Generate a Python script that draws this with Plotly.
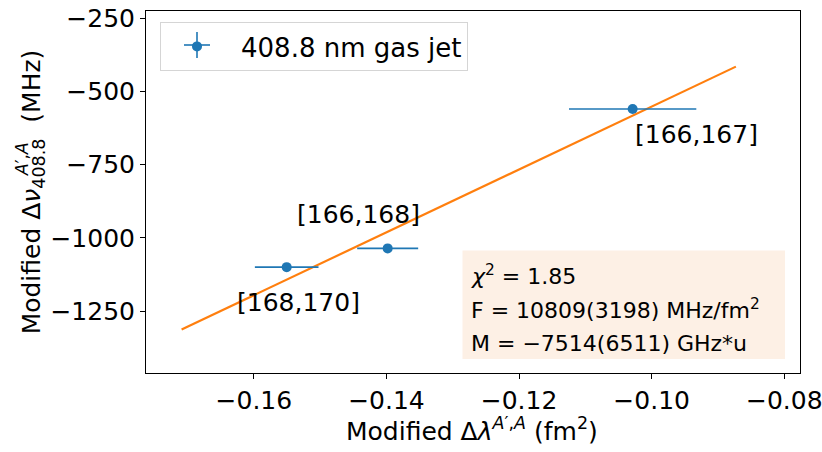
import plotly.graph_objects as go

# ---- data ----
pairs = ["[168,170]", "[166,168]", "[166,167]"]
x_vals = [-0.15505, -0.13982, -0.10287]
y_vals = [-1100, -1036, -560]
x_err = [0.0048, 0.0046, 0.0096]
y_err = [10, 10, 10]
fit_x = [-0.1709, -0.0873]
fit_y = [-1313, -415]
x_ticks = [-0.16, -0.14, -0.12, -0.10, -0.08]
x_ticklabels = ["\u22120.16", "\u22120.14", "\u22120.12", "\u22120.10", "\u22120.08"]
y_ticks = [-250, -500, -750, -1000, -1250]
y_ticklabels = ["\u2212250", "\u2212500", "\u2212750", "\u22121000", "\u22121250"]
series_name = "408.8 nm gas jet"
x_title = "Modified \u0394<i>\u03bb</i><sup><i>A</i>\u2032,<i>A</i></sup> (fm<sup>2</sup>)"
y_title = "Modified \u0394<i>\u03bd</i><sub>408.8</sub>\u00a0 (MHz)"
stats_lines = ["<i>\u03c7</i><sup>2</sup> = 1.85",
               "F = 10809(3198) MHz/fm<sup>2</sup>",
               "M = \u22127514(6511) GHz*u"]

BLUE = "#1f77b4"
ORANGE = "#ff7f0e"
FONT = "DejaVu Sans"

W, H = 822, 452
L, R, T, B = 146, 22, 11, 79
PW, PH = W - L - R, H - T - B


def px(x):
    return (x - L) / PW


def py(y):
    return (H - B - y) / PH


fig = go.Figure()
fig.add_trace(go.Scatter(
    x=fit_x, y=fit_y, mode="lines", line=dict(color=ORANGE, width=2.2),
    showlegend=False, hoverinfo="skip"))
fig.add_trace(go.Scatter(
    x=x_vals, y=y_vals, mode="markers", name=series_name,
    marker=dict(color=BLUE, size=10),
    error_x=dict(type="data", array=x_err, color=BLUE, thickness=1.6, width=0),
    error_y=dict(type="data", array=y_err, color=BLUE, thickness=1.6, width=0)))

# pair labels, offset in pixels from their points
offsets = [(12, -35), (-29, 34), (64, -25)]
for lab, xv, yv, (dx, dy) in zip(pairs, x_vals, y_vals, offsets):
    fig.add_annotation(x=xv, y=yv, text=lab, showarrow=False, xshift=dx, yshift=dy,
                       font=dict(size=25, color="black", family=FONT))

# stats box
fig.add_shape(type="rect", xref="paper", yref="paper",
              x0=px(462.5), x1=px(785), y0=py(359), y1=py(250.5),
              fillcolor="#fdf0e5", line=dict(width=0), layer="below")
for i, line in enumerate(stats_lines):
    fig.add_annotation(xref="paper", yref="paper", x=px(469), y=py(275 + 34 * i),
                       xanchor="left", yanchor="middle", text=line, showarrow=False,
                       font=dict(size=22, color="black", family=FONT))

# error-bar cross of the legend glyph
LX, LY = 197, 45
fig.add_shape(type="line", xref="paper", yref="paper", x0=px(LX - 13), x1=px(LX + 13),
              y0=py(LY), y1=py(LY), line=dict(color=BLUE, width=1.6), layer="above")
fig.add_shape(type="line", xref="paper", yref="paper", x0=px(LX), x1=px(LX),
              y0=py(LY - 13), y1=py(LY + 13), line=dict(color=BLUE, width=1.6), layer="above")

# x-axis title
fig.add_annotation(xref="paper", yref="paper", x=px(472), y=py(429),
                   xanchor="center", yanchor="middle", text=x_title, showarrow=False,
                   font=dict(size=25, color="black", family=FONT))

# superscript of the y-axis title, stacked above its subscript
fig.add_annotation(xref="paper", yref="paper", x=px(22), y=py(159), textangle=-90,
                   text="<i>A</i>\u2032,<i>A</i>", showarrow=False,
                   font=dict(size=17, color="black", family=FONT),
                   xanchor="center", yanchor="middle")

axis_common = dict(showline=True, linecolor="black", linewidth=1, mirror=True,
                   ticks="outside", ticklen=5, tickcolor="black", tickwidth=1,
                   showgrid=False, zeroline=False, ticklabeloverflow="allow",
                   automargin=False,
                   tickfont=dict(size=25, color="black", family=FONT))

fig.update_xaxes(range=[-0.17627, -0.07763], tickvals=x_ticks, ticktext=x_ticklabels,
                 **axis_common)
fig.update_yaxes(range=[-1461.7, -225], tickvals=y_ticks, ticktext=y_ticklabels,
                 title=dict(text=y_title,
                            font=dict(size=25, color="black", family=FONT), standoff=2),
                 **axis_common)

fig.update_layout(
    width=W, height=H, autosize=False,
    margin=dict(l=L, r=R, t=T, b=B, pad=0, autoexpand=False),
    paper_bgcolor="white", plot_bgcolor="white",
    font=dict(family=FONT, color="black"),
    showlegend=True,
    legend=dict(x=px(160), y=py(22), xanchor="left", yanchor="top",
                bgcolor="rgba(255,255,255,0)", bordercolor="#d5d5d5", borderwidth=1,
                indentation=-8, itemwidth=78,
                font=dict(size=26, color="black", family=FONT)),
)

fig.write_html("out.html")
